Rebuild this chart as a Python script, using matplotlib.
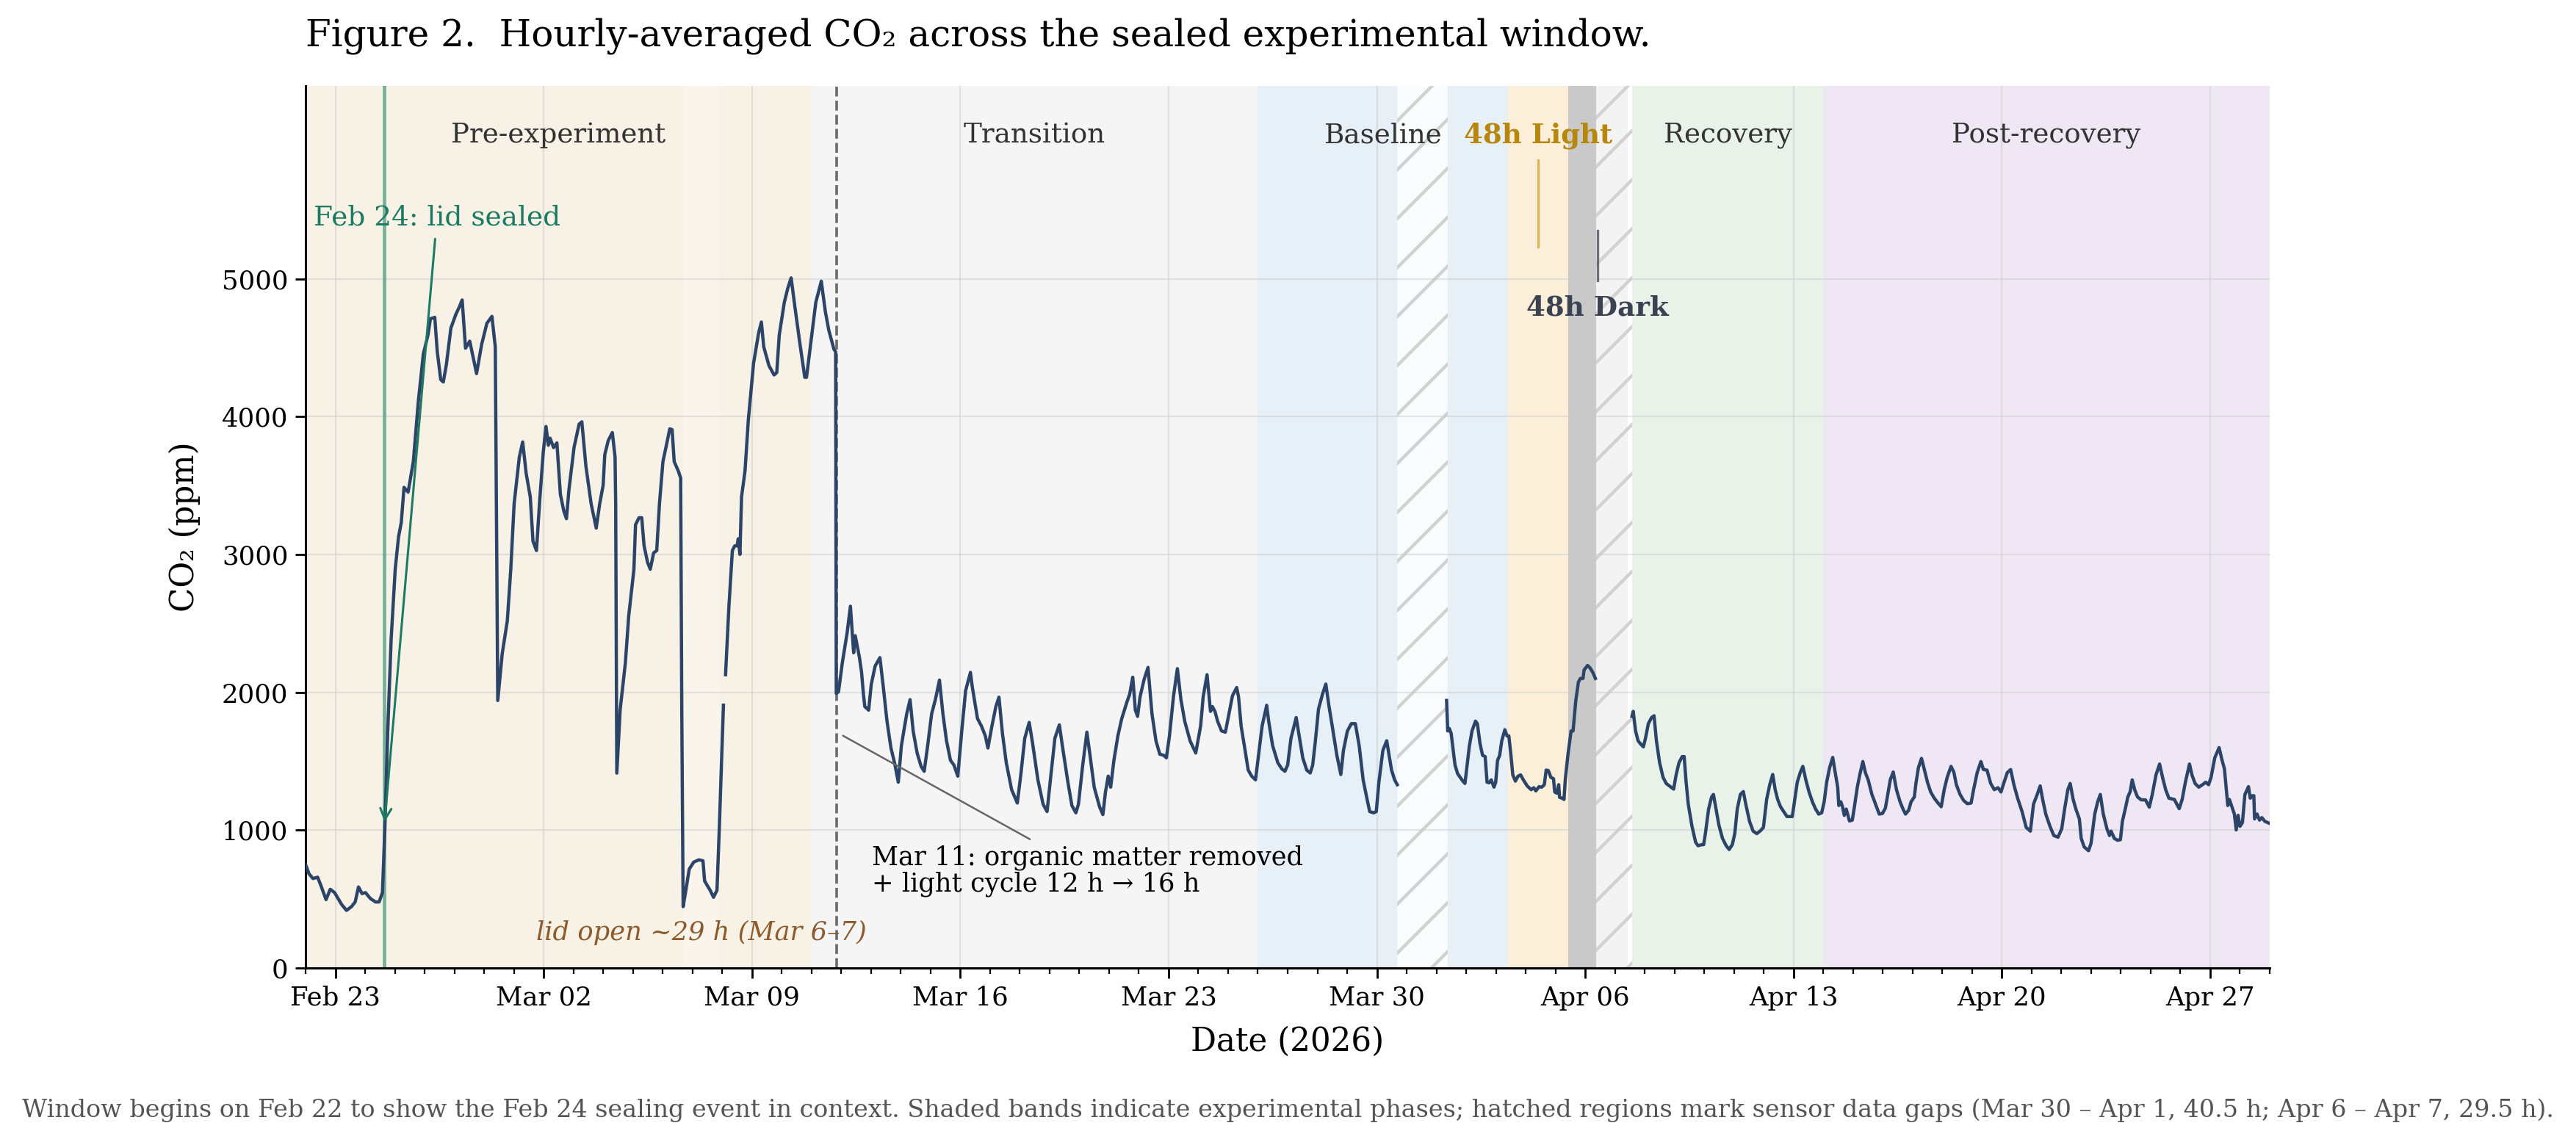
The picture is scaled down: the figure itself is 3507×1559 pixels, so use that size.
import numpy as np
import pandas as pd
import matplotlib
matplotlib.use("Agg")
import matplotlib.pyplot as plt
import matplotlib.dates as mdates
import matplotlib.transforms as mtransforms

plt.rcParams['font.family'] = ['DejaVu Serif']
plt.rcParams['hatch.linewidth'] = 1.6

T0 = pd.Timestamp('2026-02-22 00:00')

# ---- data: (hours since Feb 22 00:00, CO2 ppm), split at sensor gaps ----
seg_pre = [(0, 751), (2.8, 683), (6, 649), (9.7, 659), (12.4, 598), (16.5, 496), (19.9, 571),
           (23.4, 547), (29, 462), (33, 418), (37, 445), (40, 479), (42.7, 588), (45.5, 540),
           (48.3, 547), (52.4, 503), (56.5, 479), (59.3, 479), (62, 547), (64, 1023), (66.2, 1703),
           (69, 2383), (72.3, 2893), (75, 3130), (77.2, 3233), (79.4, 3487), (82.7, 3453),
           (86.9, 3674), (91, 4116), (95, 4456), (98.7, 4592), (100.7, 4711), (104.2, 4721),
           (106.2, 4473), (109, 4269), (111.1, 4252), (113.6, 4381), (117.2, 4643), (121.3, 4745),
           (124, 4796), (126.3, 4847), (129, 4497), (132.4, 4548), (137.9, 4313), (142, 4524),
           (146.2, 4677), (150.3, 4728), (153, 4507), (155, 1941), (158.6, 2281), (162.7, 2519),
           (165.5, 2893), (168.2, 3368), (172.4, 3708), (175.1, 3817), (177.9, 3589), (181.2, 3419),
           (183.4, 3097), (186.2, 3029), (188.9, 3402), (191.7, 3742), (193.9, 3929), (195.8, 3793),
           (197.2, 3844), (200, 3776), (202.7, 3810), (205.5, 3437), (208.2, 3318), (210.4, 3260),
           (212.4, 3470), (216.5, 3776), (220.6, 3946), (222.8, 3963), (226.1, 3640), (230.3, 3368),
           (234.4, 3192), (237.2, 3368), (240, 3504), (241.3, 3725), (244.1, 3827), (247.4, 3885),
           (249.6, 3708), (250.1, 3368), (251, 1414), (253.7, 1873), (257.9, 2213), (260.6, 2553),
           (264.8, 2893), (266.1, 3216), (268.9, 3267), (271.1, 3267), (273, 3063), (275.8, 2944),
           (278, 2893), (280.7, 3012), (283.2, 3029), (285.4, 3368), (288.2, 3674), (291, 3793),
           (293.7, 3912), (295.6, 3906), (297.3, 3674), (300.6, 3606), (302.5, 3555), (303.4, 1873),
           (304.5, 445), (306.7, 564), (309.4, 717), (313, 768), (317.2, 785), (320.5, 778),
           (321.8, 632), (324, 598), (326.3, 564), (329, 513), (331.8, 564), (333.7, 1023), (337, 1907)]

seg_main = [(338.7, 2128), (341.4, 2621), (344.2, 3029), (346.1, 3063), (348, 3063), (348.9, 3114),
            (350.3, 3001), (351.6, 3419), (354.4, 3606), (357.1, 3980), (361.3, 4388), (365.4, 4609),
            (367.6, 4687), (369.5, 4507), (373.7, 4371), (377.8, 4303), (380, 4320), (382, 4592),
            (386.1, 4830), (388.9, 4932), (391.6, 5007), (394.4, 4813), (398.5, 4541), (402.6, 4286),
            (404, 4286), (408.2, 4592), (411.5, 4830), (415.9, 4983), (419.2, 4762), (422, 4626),
            (426.1, 4490), (427.5, 4470), (428, 1992), (429.8, 2004), (432.9, 2216), (436.7, 2429),
            (439.4, 2625), (442, 2287), (443.3, 2411), (446.7, 2252), (448.4, 2145), (449.9, 1986),
            (451, 1897), (454.1, 1871), (456.2, 2057), (459.3, 2190), (463.2, 2252), (465.7, 2057),
            (468.9, 1791), (472.1, 1596), (475.2, 1480), (478, 1348), (480.5, 1613), (484.8, 1844),
            (487.5, 1947), (490, 1720), (493.2, 1560), (496.4, 1463), (498.9, 1427), (501.7, 1613),
            (504.9, 1844), (508, 1950), (511.2, 2089), (514, 1844), (516.9, 1649), (520.1, 1507),
            (522.9, 1472), (526, 1392), (529.2, 1720), (532.3, 2012), (536.2, 2145), (537.7, 2039),
            (541.9, 1809), (545.1, 1755), (548.2, 1684), (550.3, 1596), (553.5, 1755), (556.7, 1897),
            (559.2, 1965), (562, 1702), (565.1, 1489), (569.4, 1294), (574, 1197), (576.8, 1401),
            (580, 1667), (583.6, 1782), (586.3, 1631), (590.6, 1365), (594.8, 1188), (598, 1135),
            (601.1, 1401), (604.3, 1667), (607.9, 1764), (610.6, 1596), (614.8, 1348), (618, 1179),
            (621.2, 1126), (623.3, 1188), (626.5, 1454), (630.1, 1711), (632.9, 1525), (636, 1312),
            (640.3, 1170), (643, 1113), (645.1, 1277), (647.3, 1392), (649.3, 1312), (651.9, 1507),
            (655.1, 1684), (658.2, 1809), (662.5, 1933), (664.6, 1986), (667.1, 2110), (669.2, 1871),
            (671, 1826), (673, 1968), (676.2, 2092), (679.4, 2181), (682.6, 1844), (685.8, 1649),
            (688.9, 1551), (692.1, 1543), (694.2, 1525), (696.7, 1684), (699.9, 1968), (703.1, 2172),
            (705.9, 1950), (709, 1791), (713.3, 1649), (717.9, 1560), (721.8, 1755), (723.9, 1968),
            (727, 2128), (729.8, 1862), (731.3, 1897), (733.4, 1862), (735.5, 1791), (738.7, 1720),
            (741.8, 1711), (745, 1860), (747.5, 1975), (750.9, 2035), (752.4, 1968), (754.5, 1755),
            (757.7, 1578), (760.2, 1436), (763, 1392), (766.1, 1365), (768.3, 1525), (771.4, 1755),
            (775.1, 1906), (776.7, 1791), (779.9, 1613), (784.1, 1489), (787.3, 1445), (789.8, 1427),
            (792, 1472), (794.7, 1667), (798.9, 1817), (801, 1702), (804.2, 1525), (807.4, 1436),
            (810.2, 1415), (812.2, 1472), (814.4, 1649), (816.9, 1879), (820.1, 1986), (822.8, 2060),
            (825.4, 1897), (828.6, 1720), (831.7, 1543), (834.9, 1404), (837, 1578), (840.2, 1720),
            (843.4, 1773), (846.6, 1773), (849.7, 1613), (852.9, 1365), (856.1, 1223), (858.2, 1135),
            (861.3, 1126), (863.5, 1135), (865.6, 1348), (868.8, 1578), (871.9, 1649), (875.8, 1436),
            (878.3, 1365), (880.4, 1330)]

seg_mid = [(920.2, 1941), (921.1, 1720), (922.4, 1738), (923.9, 1702), (925.3, 1596), (927, 1472),
           (929.1, 1410), (931.2, 1383), (933.3, 1356), (935, 1339), (936.5, 1454), (938.6, 1613),
           (940.7, 1720), (943.5, 1791), (945, 1773), (947.1, 1631), (949.2, 1543), (951.3, 1534),
           (952.8, 1348), (954.5, 1344), (956.2, 1365), (958.4, 1312), (959.8, 1348), (961.3, 1507),
           (963, 1543), (964.7, 1649), (967.2, 1729), (968.9, 1684), (970.4, 1684), (971.9, 1560),
           (973.6, 1401), (975.7, 1356), (977.8, 1392), (979.9, 1401), (982.1, 1365), (985.2, 1321),
           (988.4, 1294), (990.5, 1308), (992.2, 1285), (994.8, 1316), (996.9, 1312), (999, 1330),
           (1000.5, 1436), (1002.2, 1433), (1004.3, 1383), (1006.4, 1374), (1007.4, 1277),
           (1009.2, 1268), (1010.6, 1330), (1011.3, 1238), (1013.4, 1232), (1014.9, 1223),
           (1015.9, 1365), (1018, 1543), (1020.6, 1720), (1022.2, 1720), (1024.3, 1933),
           (1026.5, 2074), (1028.1, 2101), (1030.2, 2101), (1031.1, 2163), (1033.9, 2195),
           (1035.9, 2177), (1038.1, 2145), (1040.2, 2101)]

seg_late = [(1069.7, 1826), (1070.7, 1862), (1072.6, 1720), (1074.6, 1649), (1077, 1622), (1078.9, 1605),
            (1080.6, 1667), (1082.9, 1773), (1085.5, 1817), (1087.5, 1830), (1089.4, 1649), (1092, 1489),
            (1094.8, 1383), (1097.3, 1339), (1099.9, 1321), (1103.3, 1298), (1105.3, 1401), (1107.6, 1489),
            (1110.2, 1534), (1111.8, 1534), (1113.2, 1365), (1115.1, 1188), (1118.1, 1028), (1121, 913),
            (1123, 887), (1126, 895), (1127.5, 895), (1128.9, 975), (1131.5, 1153), (1133.9, 1241),
            (1135.4, 1259), (1136.8, 1188), (1139.8, 1037), (1142.7, 940), (1145.7, 887), (1148.1, 860),
            (1150.6, 895), (1152.6, 975), (1154.6, 1153), (1157.1, 1259), (1159.5, 1280), (1161.5, 1188),
            (1164.5, 1064), (1167.4, 993), (1170.4, 975), (1173.3, 996), (1175.7, 1020), (1178.3, 1223),
            (1180.8, 1330), (1183.2, 1404), (1185.2, 1294), (1187.2, 1223), (1189.5, 1170), (1192.1, 1135),
            (1194.7, 1099), (1197.1, 1099), (1199, 1099), (1201, 1223), (1203, 1348), (1205.4, 1418),
            (1207.5, 1463), (1209.9, 1365), (1212.5, 1277), (1215.2, 1206), (1217.8, 1153), (1220.3, 1117),
            (1222.7, 1126), (1224.7, 1206), (1226.7, 1348), (1229.1, 1454), (1231.6, 1528), (1233.6, 1418),
            (1235.6, 1312), (1236.5, 1179), (1238.1, 1206), (1239.5, 1170), (1240.9, 1108), (1242.5, 1153),
            (1245.1, 1067), (1247.4, 1073), (1249.4, 1188), (1251.4, 1312), (1253.4, 1401), (1255.9, 1498),
            (1257.9, 1418), (1260.2, 1365), (1263.2, 1259), (1265.8, 1197), (1269.1, 1117), (1271.7, 1121),
            (1274.1, 1161), (1276, 1259), (1278, 1365), (1280.4, 1422), (1283, 1294), (1285.9, 1206),
            (1288.3, 1153), (1290.3, 1117), (1292.8, 1144), (1294.8, 1206), (1297.4, 1241), (1298.7, 1339),
            (1300.7, 1454), (1303.2, 1521), (1305.6, 1436), (1308, 1348), (1310.6, 1277), (1313.5, 1232),
            (1316.5, 1197), (1319.1, 1170), (1321.5, 1294), (1323.9, 1383), (1327, 1463), (1329.3, 1420),
            (1331.3, 1330), (1334.3, 1259), (1337.2, 1215), (1340.2, 1192), (1343.2, 1197), (1345.2, 1294),
            (1348.1, 1418), (1351.1, 1498), (1353.1, 1440), (1356, 1436), (1359, 1339), (1361.9, 1294),
            (1364.9, 1308), (1367.3, 1277), (1369.8, 1348), (1372.4, 1418), (1375.1, 1440), (1377.7, 1330),
            (1380.7, 1232), (1384.3, 1135), (1387.6, 1020), (1391, 993), (1393.5, 1188), (1396.5, 1259),
            (1398.9, 1321), (1400.9, 1223), (1403.4, 1117), (1406.8, 1028), (1409.9, 961), (1413.3, 949),
            (1416.3, 1011), (1418.6, 1153), (1421.2, 1294), (1423.1, 1339), (1425.5, 1223), (1427.7, 1153),
            (1430.5, 1082), (1432, 940), (1434.4, 878), (1437.9, 851), (1439.9, 904), (1442.9, 1117),
            (1445.3, 1206), (1447.4, 1259), (1449.8, 1117), (1452.7, 1011), (1454.8, 961), (1456.1, 993),
            (1458.7, 940), (1461.3, 927), (1463.6, 931), (1465.2, 1064), (1467.5, 1153), (1469.6, 1241),
            (1471.5, 1280), (1473.1, 1365), (1475.1, 1294), (1477.4, 1241), (1480.4, 1220), (1483.8, 1220),
            (1486.9, 1167), (1489.3, 1259), (1492.3, 1401), (1495.2, 1480), (1497.6, 1383), (1500.1, 1294),
            (1502.7, 1232), (1507.1, 1223), (1511, 1156), (1513.4, 1223), (1516, 1348), (1519.3, 1480),
            (1521.3, 1401), (1523.8, 1339), (1526.8, 1312), (1529.8, 1330), (1532.4, 1348), (1534.7, 1330),
            (1536.7, 1383), (1539.7, 1525), (1543.2, 1599), (1545.6, 1507), (1547.5, 1445), (1549, 1294),
            (1550.2, 1179), (1551.5, 1223), (1553.5, 1170), (1555.5, 1117), (1557, 1002), (1558.5, 1108),
            (1560, 1028), (1562, 1055), (1564, 1259), (1565.3, 1285), (1566.9, 1316), (1568.3, 1232),
            (1569.9, 1250), (1571.2, 1250), (1571.8, 1082), (1573.8, 1117), (1575.8, 1073), (1577.7, 1091),
            (1580.1, 1064), (1583.7, 1050)]

# ---- phases (hours since Feb 22) ----
phase_names = ['Pre-experiment', 'Transition', 'Baseline', '48h Light', '48h Dark', 'Recovery', 'Post-recovery']
phase_start = [0, 408, 768, 970, 1018, 1070, 1224]
phase_end = [408, 768, 970, 1018, 1066, 1224, 1584]
phase_colors = ['#f8f1e5', '#f5f5f5', '#e7eff7', '#fbefda', '#c9c9c9', '#e8f2e8', '#efe7f4']

gap_start = [880.5, 1040.5]
gap_end = [921, 1070]
lid_open = (304.5, 333.5)
seal_h = 63.5
organic_h = 428

yticks = [0, 1000, 2000, 3000, 4000, 5000]


def ts(h):
    return T0 + pd.to_timedelta(np.asarray(h, dtype=float), unit='h')


DPI = 200
fig = plt.figure(figsize=(3507 / DPI, 1559 / DPI), dpi=DPI)
ax = fig.add_axes([416 / 3507, 1 - 1318 / 1559, (3090 - 416) / 3507, (1318 - 117) / 1559])

# phase bands
for s, e, c in zip(phase_start, phase_end, phase_colors):
    ax.axvspan(ts(s), ts(e), facecolor=c, edgecolor='none', zorder=0)
ax.axvspan(ts(lid_open[0]), ts(lid_open[1]), facecolor='white', alpha=0.3, edgecolor='none', zorder=0.1)
for s, e in zip(gap_start, gap_end):
    ax.axvspan(ts(s), ts(e), facecolor=(1, 1, 1, 0.78), edgecolor='#d2d2d2', hatch='/', linewidth=0, zorder=0.2)

# data line
for seg in (seg_pre, seg_main, seg_mid, seg_late):
    h = [p[0] for p in seg]
    v = [p[1] for p in seg]
    ax.plot(ts(h), v, color='#2b4468', lw=1.6, zorder=3, solid_joinstyle='round')

# event lines
ax.axvline(ts(seal_h), color='#5fa58c', lw=1.7, alpha=0.85, zorder=2)
ax.axvline(ts(organic_h), color='#6b6b6b', lw=1.3, ls='--', zorder=2.5)

ax.set_xlim(ts(0), ts(1584))
ax.set_ylim(0, 6400)
ax.set_yticks(yticks)

ax.xaxis.set_major_locator(mdates.WeekdayLocator(byweekday=mdates.MO))
ax.xaxis.set_major_formatter(mdates.DateFormatter('%b %d'))
ax.xaxis.set_minor_locator(mdates.DayLocator())

ax.set_axisbelow(True)
ax.grid(True, which='major', color='#c8c8c8', alpha=0.45, lw=0.8)
for sp in ('top', 'right'):
    ax.spines[sp].set_visible(False)
for sp in ('left', 'bottom'):
    ax.spines[sp].set_linewidth(1.1)
ax.tick_params(axis='both', which='major', length=5, width=1.0, labelsize=12.8)
ax.tick_params(axis='x', which='minor', length=2.8, width=0.8)

ax.set_ylabel('CO₂ (ppm)', fontsize=15.7)
ax.yaxis.set_label_coords(-0.0535, 0.5)
ax.set_xlabel('Date (2026)', fontsize=15.7)
ax.xaxis.set_label_coords(0.5, -0.066)

# phase labels
blend = mtransforms.blended_transform_factory(ax.transData, ax.transAxes)
LBL = 13.4
for name, s, e in zip(phase_names, phase_start, phase_end):
    if name == '48h Dark':
        continue
    mid = ts((s + e) / 2)
    if name == '48h Light':
        ax.text(mid, 0.944, name, transform=blend, ha='center', va='center', fontsize=LBL,
                fontweight='bold', color='#b8860b')
        ax.plot([mid, mid], [0.916, 0.818], transform=blend, color='#d9ad4a', lw=1.2, alpha=0.9)
    else:
        ax.text(mid, 0.944, name, transform=blend, ha='center', va='center', fontsize=LBL, color='#333333')

dark_mid = ts((phase_start[4] + phase_end[4]) / 2)
ax.text(dark_mid, 0.748, '48h Dark', transform=blend, ha='center', va='center', fontsize=LBL,
        fontweight='bold', color='#3b4252')
ax.plot([dark_mid, dark_mid], [0.836, 0.779], transform=blend, color='#5c6270', lw=1.2, alpha=0.9)

# annotations
ax.annotate('Feb 24: lid sealed', xy=(ts(seal_h), 1030), xytext=(ts(106), 5445),
            ha='center', va='center', fontsize=13.5, color='#1b7a62',
            arrowprops=dict(arrowstyle='->', color='#1b7a62', lw=1.1))
ax.annotate('Mar 11: organic matter removed\n+ light cycle 12 h → 16 h',
            xy=(ts(430.5), 1700), xytext=(ts(456.8), 890), ha='left', va='top', fontsize=12.7,
            color='black', linespacing=1.05,
            arrowprops=dict(arrowstyle='-', color='#666666', lw=0.9))
ax.text(ts(sum(lid_open) / 2), 256, 'lid open ~29 h (Mar 6–7)', ha='center', va='center',
        fontsize=12.7, style='italic', color='#8c5a2b')

fig.text(416 / 3507, 1 - 49 / 1559, 'Figure 2.  Hourly-averaged CO₂ across the sealed experimental window.',
         ha='left', va='center', fontsize=18)
fig.text(0.5, 1 - 1512 / 1559,
         'Window begins on Feb 22 to show the Feb 24 sealing event in context. Shaded bands indicate '
         'experimental phases; hatched regions mark sensor data gaps (Mar 30 – Apr 1, 40.5 h; Apr 6 – Apr 7, 29.5 h).',
         ha='center', va='center', fontsize=12, color='#555555')

fig.savefig('out.png', dpi=DPI)
